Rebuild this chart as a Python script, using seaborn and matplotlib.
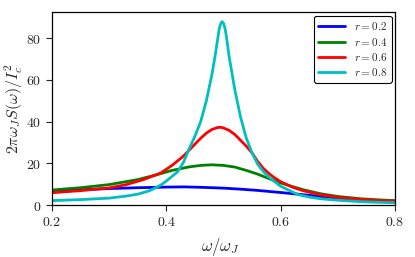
import numpy as np
import pandas as pd
import seaborn as sns
import matplotlib.pyplot as plt
from matplotlib.ticker import FuncFormatter

# values, omega/omega_J vs 2 pi omega_J S(omega)/Ic^2
x_r02 = [0.20, 0.25, 0.30, 0.35, 0.40, 0.43, 0.46, 0.50, 0.53, 0.56, 0.60, 0.63, 0.67, 0.70, 0.74, 0.77, 0.80]
y_r02 = [6.6, 7.3, 7.9, 8.3, 8.6, 8.7, 8.5, 8.1, 7.6, 7.0, 6.0, 5.2, 4.1, 3.3, 2.4, 1.9, 1.5]

x_r04 = [0.20, 0.25, 0.30, 0.35, 0.38, 0.41, 0.44, 0.46, 0.48, 0.50, 0.52, 0.54, 0.56, 0.58, 0.60,
         0.62, 0.64, 0.67, 0.70, 0.74, 0.77, 0.80]
y_r04 = [7.2, 8.3, 9.8, 12.2, 14.3, 16.6, 18.3, 19.0, 19.3, 19.0, 18.2, 16.6, 14.8, 12.6, 10.6,
         8.9, 7.3, 5.4, 4.1, 3.0, 2.5, 2.1]

x_r06 = [0.20, 0.25, 0.30, 0.33, 0.36, 0.39, 0.41, 0.43, 0.45, 0.46, 0.47, 0.48, 0.49, 0.495, 0.50,
         0.51, 0.52, 0.53, 0.54, 0.55, 0.56, 0.57, 0.58, 0.59, 0.60, 0.62, 0.64, 0.67, 0.70, 0.74,
         0.77, 0.80]
y_r06 = [5.9, 6.9, 8.2, 9.8, 12.2, 15.3, 19.0, 23.5, 29.2, 32.0, 34.5, 36.3, 37.2, 37.3, 37.0,
         35.8, 33.8, 31.0, 28.2, 25.0, 20.8, 17.5, 15.0, 12.9, 11.2, 8.6, 6.8, 4.9, 3.7, 2.7,
         2.2, 1.9]

x_r08 = [0.20, 0.25, 0.30, 0.33, 0.35, 0.37, 0.39, 0.40, 0.42, 0.43, 0.44, 0.45, 0.46, 0.47, 0.48,
         0.485, 0.49, 0.4925, 0.495, 0.4975, 0.50, 0.5025, 0.505, 0.51, 0.52, 0.53, 0.54, 0.55,
         0.56, 0.57, 0.58, 0.60, 0.63, 0.65, 0.67, 0.70, 0.74, 0.77, 0.80]
y_r08 = [2.1, 2.6, 3.3, 4.3, 5.2, 6.8, 9.5, 11.5, 16.0, 20.5, 27.0, 33.0, 40.0, 50.0, 63.0,
         71.0, 80.0, 84.5, 87.0, 88.0, 87.2, 85.0, 81.0, 71.0, 55.0, 42.0, 32.0, 25.0,
         19.5, 16.0, 13.2, 9.0, 5.0, 3.8, 3.0, 2.3, 1.6, 1.3, 1.1]

series = [
    (x_r02, y_r02, '$r = 0.2$', 'b'),
    (x_r04, y_r04, '$r = 0.4$', 'g'),
    (x_r06, y_r06, '$r = 0.6$', 'r'),
    (x_r08, y_r08, '$r = 0.8$', 'c'),
]

sns.set_style('ticks')
plt.rcParams['mathtext.fontset'] = 'cm'
plt.rcParams['font.family'] = ['DejaVu Serif']

fig = plt.figure(figsize=(4.15, 2.57), dpi=100)
ax = fig.add_axes([0.1253, 0.2023, 0.8265, 0.7491])

for xs, ys, lab, col in series:
    df = pd.DataFrame({'w': xs, 's': ys})
    sns.lineplot(data=df, x='w', y='s', color=col, lw=2, label=lab, ax=ax,
                 estimator=None, sort=False)

ax.set_xlim(0.2, 0.8)
ax.set_ylim(0, 92.4)
ax.set_xticks([0.2, 0.4, 0.6, 0.8])
ax.set_yticks([0, 20, 40, 60, 80])
ax.xaxis.set_major_formatter(FuncFormatter(lambda v, p: '$%.1f$' % v))
ax.yaxis.set_major_formatter(FuncFormatter(lambda v, p: '$%d$' % v))
ax.tick_params(direction='out', length=4, width=0.8, labelsize=10, top=False, right=False)
for sp in ax.spines.values():
    sp.set_visible(True)
    sp.set_color('black')
    sp.set_linewidth(0.9)

ax.set_xlabel(r'$\omega/\omega_J$', fontsize=12)
ax.set_ylabel(r'$2\pi\omega_J S(\omega)/I_c^2$', fontsize=11.5)
ax.xaxis.set_label_coords(0.49, -0.16)
ax.yaxis.set_label_coords(-0.078, 0.5)

leg = ax.legend(loc='upper right', fontsize=8, handlelength=2.4, framealpha=1,
                fancybox=True, borderpad=0.4, labelspacing=0.3, borderaxespad=0.3)
leg.get_frame().set_edgecolor('black')
leg.get_frame().set_linewidth(0.8)

fig.savefig('out.png', dpi=100)
